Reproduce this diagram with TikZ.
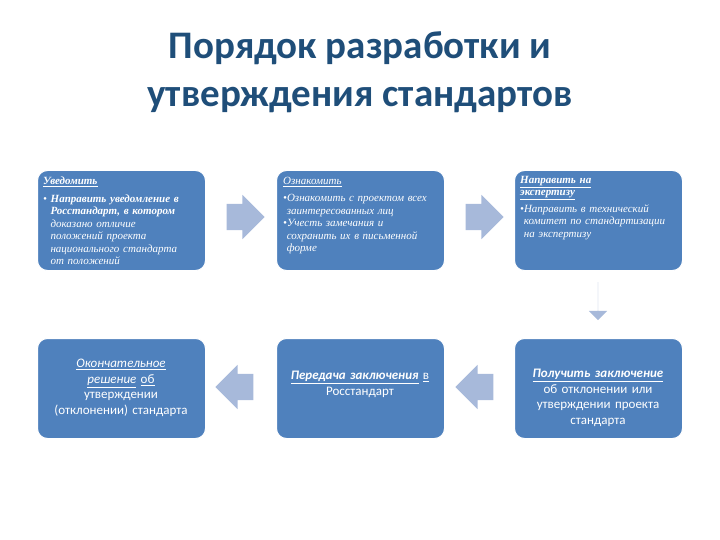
\documentclass[tikz,border=0pt]{standalone}
\usepackage{fontspec}
\setmainfont{Liberation Serif}
\newfontfamily\titlefont{Carlito}
\usetikzlibrary{shapes.arrows}
\definecolor{boxblue}{HTML}{4F81BD}
\definecolor{titleblue}{HTML}{1F4E79}
\definecolor{arrowblue}{HTML}{A7B9DA}
\tikzset{
 bx/.style={draw=white,line width=1pt,fill=boxblue,rounded corners=10pt,minimum width=168pt,minimum height=100pt,anchor=north west},
 txt/.style={text=white,font=\itshape\fontsize{11}{12.5}\selectfont,align=left,anchor=north west,text width=160pt,inner sep=0pt},
 btxt/.style={text=white,font=\titlefont\fontsize{13}{15.5}\selectfont,align=center,text width=164pt,inner sep=0pt},
 arr/.style={single arrow,fill=arrowblue,draw=none,minimum height=38pt,inner xsep=0pt,inner ysep=13pt,single arrow head extend=9pt,single arrow tip angle=90}
}
\begin{document}
\begin{tikzpicture}[x=1pt,y=-1pt]
\useasboundingbox (0,0) rectangle (720,540);
\node[text=titleblue,font=\titlefont\bfseries\fontsize{39}{48}\selectfont,align=center] (title) at (360,72) {Порядок разработки и\\утверждения стандартов};
\node[bx] (b1) at (37,170) {};
\node[bx] (b2) at (276,170) {};
\node[bx] (b3) at (514,170) {};
\node[bx] (b4) at (37,338) {};
\node[bx] (b5) at (276,338) {};
\node[bx] (b6) at (514,338) {};
\begin{scope}
\clip (38,171) rectangle (204,270);
\node[txt] (t1) at (43,177) {{\bfseries\underline{Уведомить}}\\[5pt]
\textbullet\ {\bfseries Направить уведомление в}\\\ \ {\bfseries Росстандарт, в котором}\\\ \ доказано отличие\\\ \ положений проекта\\\ \ национального стандарта\\\ \ от положений};
\end{scope}
\node[txt] (t2) at (283,177) {\underline{Ознакомить}\\[5pt]
\textbullet Ознакомить с проектом всех\\\ заинтересованных лиц\\
\textbullet Учесть замечания и\\\ сохранить их в письменной\\\ форме};
\node[txt] (t3) at (520,176) {{\bfseries\underline{Направить на}}\\{\bfseries\underline{экспертизу}}\\[4pt]
\textbullet Направить в технический\\\ комитет по стандартизации\\\ на экспертизу};
\node[btxt] (t4) at (121,388) {\textit{\underline{Окончательное}}\\\textit{\underline{решение}} \underline{об}\\утверждении\\(отклонении) стандарта};
\node[btxt,anchor=north] (t5) at (360,371) {\textit{\bfseries\underline{Передача заключения}} \underline{в}\\Росстандарт};
\node[btxt] (t6) at (598,398) {\textit{\bfseries\underline{Получить заключение}}\\об отклонении или\\утверждении проекта\\стандарта};
\node[arr] (a1) at (239,217) {};
\node[arr] (a2) at (478,217) {};
\node[arr,shape border rotate=270] (a3) at (598,301) {};
\node[arr,shape border rotate=180] (a4) at (241,387) {};
\node[arr,shape border rotate=180] (a5) at (481,387) {};
\end{tikzpicture}
\end{document}
